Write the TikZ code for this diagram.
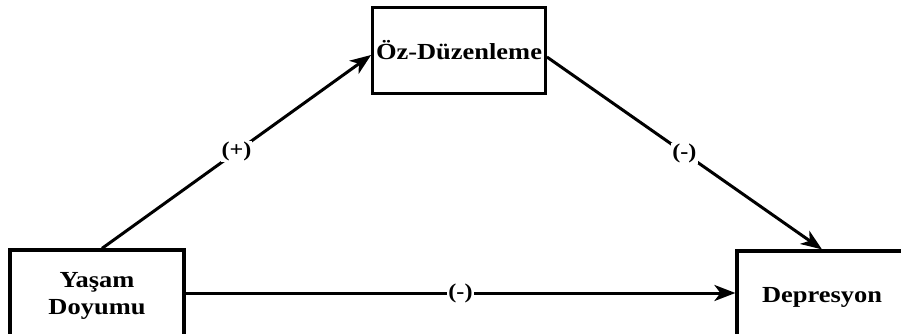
\documentclass[tikz,border=0pt]{standalone}
\usepackage{fontspec}
\setmainfont{Liberation Serif}[
	BoldFont={Liberation Serif Bold},
	BoldFeatures={FakeStretch=1.15}]
\usetikzlibrary{arrows.meta}
\tikzset{
	>={Stealth[length=21pt, width=16pt, inset=6pt]},
	varbox/.style={draw=black, line width=3.2pt, fill=white, align=center,
		font=\fontsize{23}{27}\selectfont\bfseries},
	path/.style={black, line width=3pt, ->},
	sign/.style={fill=white, inner sep=1pt, font=\fontsize{21}{22}\selectfont\bfseries}
}

\begin{document}
\begin{tikzpicture}[x=1pt, y=-1pt]
	
	% page frame, same size as the source image
	\useasboundingbox (0,0) rectangle (901,334);
	
	% Variables
	\node[varbox, minimum width=170pt, minimum height=86pt] (oz) at (459,50.5) {Öz-Düzenleme};
	\node[varbox, minimum width=174pt, minimum height=92pt] (yasam) at (97,296) {Yaşam\\Doyumu};
	\node[varbox, minimum width=170pt, minimum height=92pt] (dep) at (822,297) {Depresyon};
	
	% Paths (y axis points down, so shifts are flipped)
	\draw[path] ([xshift=5pt]yasam.north) -- node[sign] {(+)} ([yshift=-4.5pt]oz.west);
	\draw[path] ([yshift=-6.5pt]oz.east) -- node[sign] {(-)} (dep.north);
	\draw[path] ([yshift=3pt]yasam.east) -- node[sign] {(-)} ([yshift=4pt]dep.west);
	
\end{tikzpicture}
\end{document}
